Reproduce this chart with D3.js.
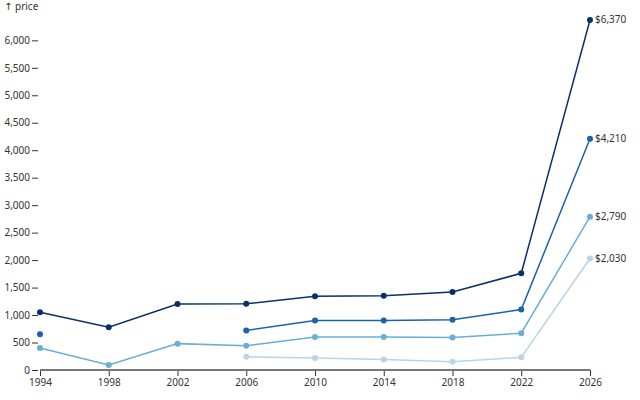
<!DOCTYPE html>
<html>
<head>
<meta charset="utf-8">
<script src="https://cdn.jsdelivr.net/npm/d3@7"></script>
<style>
  body { margin: 0; background: #fff; }
  svg { font-family: "Noto Sans", "Open Sans", sans-serif; font-size: 10px; }
</style>
</head>
<body>
<svg id="chart" width="640" height="400"></svg>
<script>
const years = [1994, 1998, 2002, 2006, 2010, 2014, 2018, 2022, 2026];
const seriesA = [1050, 780, 1200, 1205, 1340, 1350, 1420, 1760, 6370];
const seriesB = [650, null, null, 720, 900, 900, 915, 1100, 4210];
const seriesC = [400, 90, 480, 440, 600, 600, 590, 670, 2790];
const seriesD = [null, null, null, 240, 220, 190, 150, 230, 2030];
const colors = ["#08306b", "#1c62a8", "#6aadd5", "#b7d4ea"];
const yTicks = [0, 500, 1000, 1500, 2000, 2500, 3000, 3500, 4000, 4500, 5000, 5500, 6000];

const allSeries = [seriesA, seriesB, seriesC, seriesD];
const W = 640, H = 400, mt = 20, mr = 50, mb = 30, ml = 40;
const svg = d3.select("#chart");
const FONT = "'Noto Sans', 'Open Sans', sans-serif";

const x = d3.scaleLinear().domain([1994, 2026]).range([ml, W - mr]);
const y = d3.scaleLinear().domain([0, d3.max(seriesA)]).range([H - mb, mt]);

// y axis
const yAxis = svg.append("g").attr("transform", `translate(${ml},0)`)
  .call(d3.axisLeft(y).tickValues(yTicks).tickFormat(d3.format(",")).tickSize(6).tickPadding(3));
yAxis.select(".domain").remove();
yAxis.selectAll(".tick line").attr("stroke", "#333").attr("x1", -2).attr("x2", -8);
yAxis.selectAll(".tick text").attr("x", -10).attr("fill", "#333")
  .style("font-size", "10px").style("font-family", FONT);

const lbl = svg.append("text").attr("x", 4).attr("y", 10).attr("fill", "#333")
  .style("font-size", "10px").style("font-family", FONT);
lbl.append("tspan").style("font-family", "'DejaVu Sans', sans-serif").attr("fill", "#333").text("↑");
lbl.append("tspan").text(" price");

// x axis
const xAxis = svg.append("g").attr("transform", `translate(0,${H - mb})`)
  .call(d3.axisBottom(x).tickValues(years).tickFormat(d3.format("d")).tickSize(6).tickPadding(3));
xAxis.select(".domain").remove();
xAxis.selectAll(".tick line").attr("stroke", "#333");
xAxis.selectAll(".tick text").attr("fill", "#333")
  .style("font-size", "10px").style("font-family", FONT);

svg.append("line").attr("x1", x(1994)).attr("x2", x(2026))
  .attr("y1", y(0)).attr("y2", y(0)).attr("stroke", "#777").attr("stroke-width", 2);

const line = d3.line()
  .defined(d => d.v != null)
  .x(d => x(d.year)).y(d => y(d.v));

allSeries.slice().reverse().forEach((s, ri) => {
  const i = allSeries.length - 1 - ri;
  const pts = years.map((yr, k) => ({ year: yr, v: s[k] }));
  svg.append("path").datum(pts).attr("d", line)
    .attr("fill", "none").attr("stroke", colors[i]).attr("stroke-width", 1.5);
  svg.append("g").selectAll("circle").data(pts.filter(d => d.v != null)).join("circle")
    .attr("cx", d => x(d.year)).attr("cy", d => y(d.v)).attr("r", 3).attr("fill", colors[i]);
  const last = pts[pts.length - 1];
  svg.append("text").attr("x", x(last.year) + 5).attr("y", y(last.v)).attr("dy", "0.32em")
    .attr("fill", "#333").style("font-size", "10px").style("font-family", FONT)
    .text("$" + d3.format(",")(last.v));
});
</script>
</body>
</html>
